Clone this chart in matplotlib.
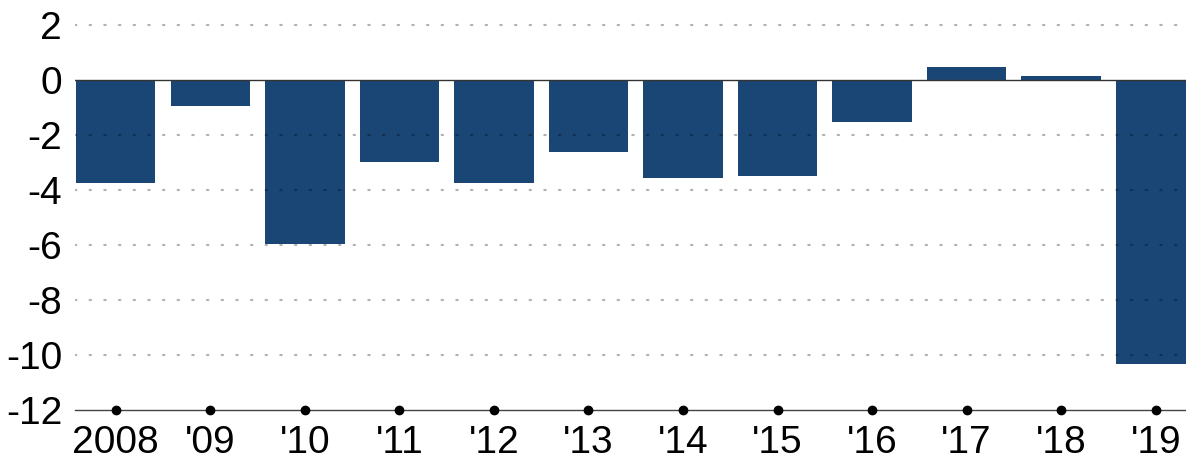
import numpy as np
import matplotlib
matplotlib.use("Agg")
import matplotlib.pyplot as plt

# data
years = ["2008", "'09", "'10", "'11", "'12", "'13", "'14", "'15", "'16", "'17", "'18", "'19"]
values = [-3.76, -0.95, -5.96, -2.96, -3.76, -2.6, -3.55, -3.47, -1.53, 0.48, 0.15, -10.34]
yticks = [2, 0, -2, -4, -6, -8, -10, -12]

BAR_COLOR = "#1a4675"

plt.rcParams["font.family"] = ["Liberation Sans", "DejaVu Sans"]

fig = plt.figure(figsize=(11.86, 4.62), dpi=100)
ax = fig.add_axes([0.063, 0.113, 0.937, 0.887])

x = np.arange(len(years))
ax.bar(x, values, width=0.84, color=BAR_COLOR, zorder=2)

# dotted grid, drawn over the bars
for yv in yticks[:-1]:
    if yv == 0:
        continue
    ax.axhline(yv, color="black", alpha=0.3, lw=1.6, ls=(0, (0.6, 6)),
               dash_capstyle="round", zorder=3)
ax.axhline(0, color="#333333", lw=1.0, zorder=4)

# bottom axis line with dot markers
ax.axhline(-12, color="#444444", lw=1.0, zorder=4, clip_on=False)
ax.plot(x, [-12] * len(x), "o", color="black", ms=6, zorder=5, clip_on=False)

ax.set_xlim(-0.434, 11.32)
ax.set_ylim(-12, 2.92)
ax.set_yticks(yticks)
ax.set_yticklabels([str(v) for v in yticks])
ax.set_xticks(x)
ax.set_xticklabels(years)
ax.tick_params(axis="both", length=0, labelsize=28)
ax.tick_params(axis="y", pad=9)
ax.tick_params(axis="x", pad=11)
for s in ax.spines.values():
    s.set_visible(False)

fig.savefig("out.png", dpi=100)
